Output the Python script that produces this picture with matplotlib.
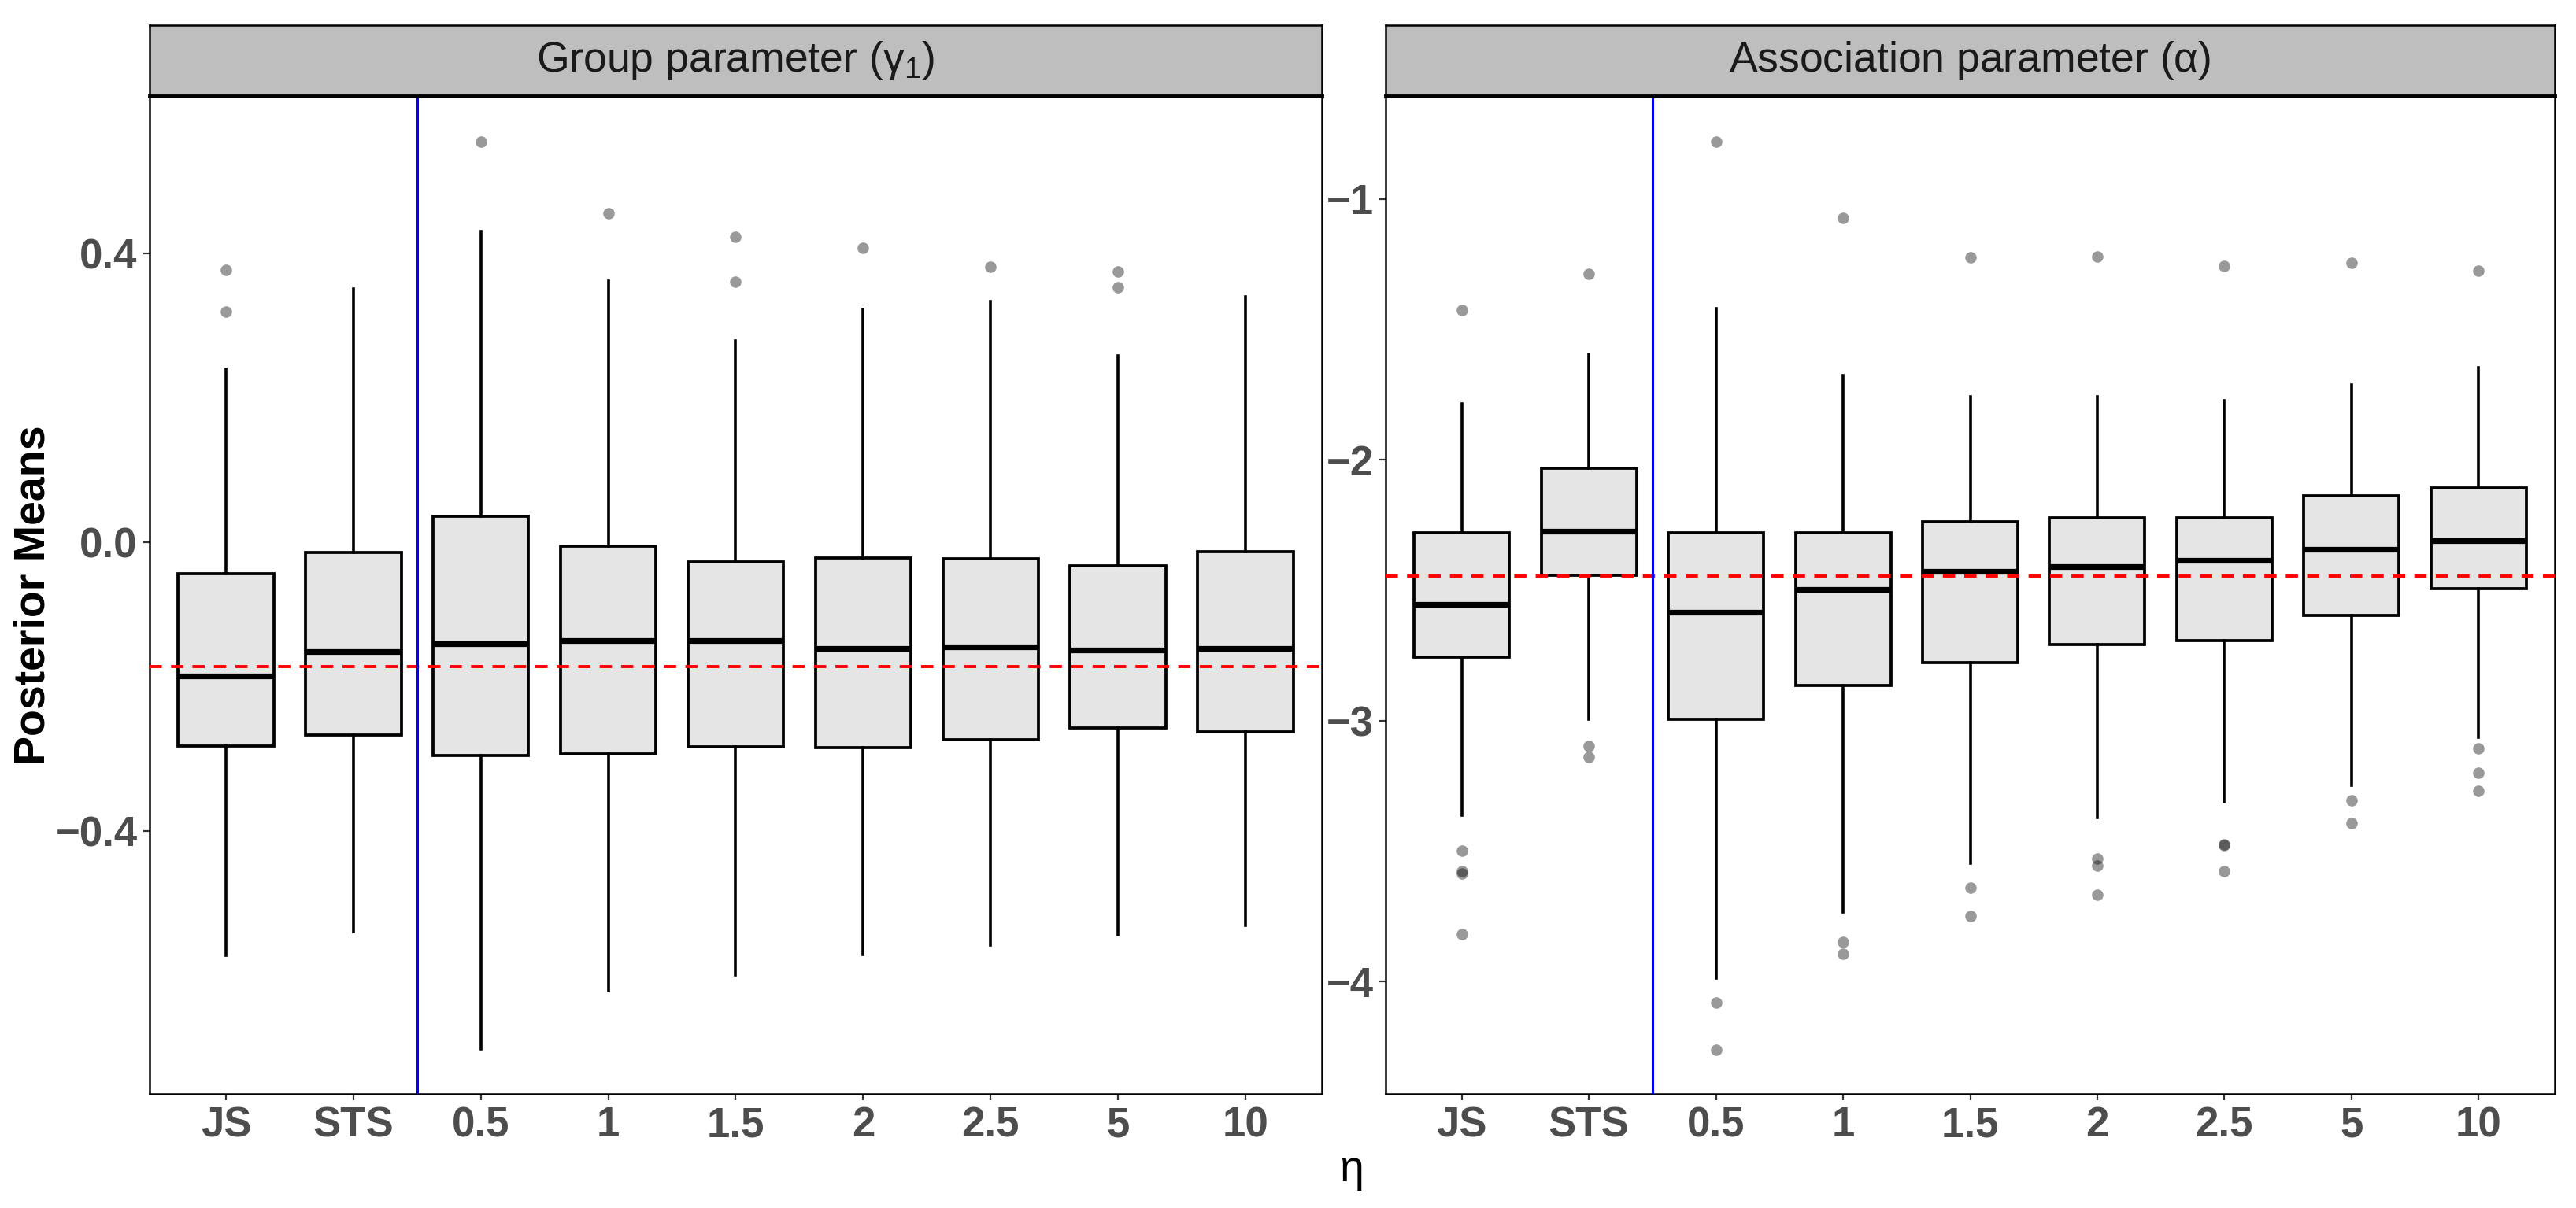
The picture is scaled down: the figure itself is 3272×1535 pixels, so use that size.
import numpy as np
import matplotlib
matplotlib.use("Agg")
import matplotlib.pyplot as plt

plt.rcParams['font.family'] = ['Liberation Sans', 'DejaVu Sans']
plt.rcParams['mathtext.default'] = 'regular'

categories = ["JS", "STS", "0.5", "1", "1.5", "2", "2.5", "5", "10"]

# group parameter (gamma_1)
g_lo  = [-0.572, -0.540, -0.702, -0.621, -0.600, -0.571, -0.558, -0.544, -0.531]
g_q1  = [-0.282, -0.267, -0.296, -0.293, -0.284, -0.285, -0.274, -0.257, -0.263]
g_med = [-0.185, -0.152, -0.141, -0.136, -0.136, -0.147, -0.145, -0.150, -0.147]
g_q3  = [-0.044, -0.014, 0.036, -0.006, -0.027, -0.022, -0.023, -0.033, -0.013]
g_hi  = [0.239, 0.350, 0.430, 0.361, 0.279, 0.322, 0.333, 0.258, 0.340]
g_out = [[0.377, 0.319], [], [0.554], [0.455], [0.422, 0.360], [0.407],
         [0.381], [0.374, 0.353], []]
g_true = -0.172

# association parameter (alpha)
a_lo  = [-3.362, -2.996, -3.989, -3.734, -3.548, -3.372, -3.312, -3.247, -3.064]
a_q1  = [-2.758, -2.442, -2.996, -2.866, -2.779, -2.708, -2.693, -2.597, -2.495]
a_med = [-2.554, -2.275, -2.584, -2.496, -2.427, -2.410, -2.387, -2.342, -2.311]
a_q3  = [-2.279, -2.033, -2.281, -2.279, -2.238, -2.222, -2.222, -2.139, -2.107]
a_hi  = [-1.785, -1.596, -1.419, -1.677, -1.759, -1.759, -1.774, -1.713, -1.646]
a_out = [[-1.425, -3.498, -3.578, -3.585, -3.820], [-1.289, -3.097, -3.140],
         [-0.781, -4.081, -4.261], [-1.074, -3.850, -3.894], [-1.223, -3.640, -3.749],
         [-1.220, -3.528, -3.555, -3.668], [-1.257, -3.475, -3.477, -3.578],
         [-1.246, -3.306, -3.392], [-1.277, -3.108, -3.199, -3.270]]
a_true = -2.447

W, H = 3273, 1535
fig = plt.figure(figsize=(W/100, H/100), dpi=100)

panels = [
    dict(x0=190, x1=1679, lo=g_lo, q1=g_q1, med=g_med, q3=g_q3, hi=g_hi, out=g_out,
         true=g_true, ylim=(-0.764, 0.617), yticks=[-0.4, 0.0, 0.4], fmt="%.1f",
         title=r"Group parameter ($\gamma_1$)"),
    dict(x0=1760, x1=3245, lo=a_lo, q1=a_q1, med=a_med, q3=a_q3, hi=a_hi, out=a_out,
         true=a_true, ylim=(-4.431, -0.607), yticks=[-4, -3, -2, -1], fmt="%d",
         title=r"Association parameter ($\alpha$)"),
]

ytop, ybot, stop = 122.4, 1390, 31.6
pos = np.arange(1, len(categories)+1)

for p in panels:
    ax = fig.add_axes([p['x0']/W, 1-ybot/H, (p['x1']-p['x0'])/W, (ybot-ytop)/H])
    stats = []
    for i in range(len(categories)):
        stats.append(dict(med=p['med'][i], q1=p['q1'][i], q3=p['q3'][i],
                          whislo=p['lo'][i], whishi=p['hi'][i], fliers=p['out'][i]))
    ax.bxp(stats, positions=pos, widths=0.75, showcaps=False, patch_artist=True,
           boxprops=dict(facecolor="#E5E5E5", edgecolor="black", linewidth=2.7),
           whiskerprops=dict(color="black", linewidth=2.6),
           medianprops=dict(color="black", linewidth=5.2, solid_capstyle="butt"),
           flierprops=dict(marker="o", markerfacecolor="black", markeredgecolor="none",
                           alpha=0.4, markersize=10.5))
    ax.axhline(p['true'], color="#FF0000", linestyle=(0, (4, 3)), linewidth=2.8, zorder=5)
    ax.axvline(2.5, color="#0000FF", linewidth=2.2, zorder=5)
    ax.set_xlim(0.4, len(categories)+0.6)
    ax.set_ylim(*p['ylim'])
    ax.set_xticks(pos)
    ax.set_xticklabels(categories)
    ax.set_yticks(p['yticks'])
    ax.set_yticklabels([(p['fmt'] % v).replace("-", "\u2212") for v in p['yticks']])
    ax.tick_params(axis='both', length=6, width=1.6, color="#333333", pad=5,
                   labelsize=38, labelcolor="#4D4D4D")
    for lab in ax.get_xticklabels() + ax.get_yticklabels():
        lab.set_fontweight("bold")
    for s in ax.spines.values():
        s.set_linewidth(1.8)
        s.set_color("black")
    # facet strip
    sax = fig.add_axes([p['x0']/W, 1-ytop/H, (p['x1']-p['x0'])/W, (ytop-stop)/H])
    sax.set_facecolor("#BEBEBE")
    sax.set_xticks([])
    sax.set_yticks([])
    for s in sax.spines.values():
        s.set_linewidth(1.8)
        s.set_color("black")
    sax.spines['bottom'].set_linewidth(3.5)
    sax.text(0.5, 0.5, p['title'], ha="center", va="center", fontsize=38.5,
             color="#1A1A1A", transform=sax.transAxes)

fig.text(42.5/W, 1-756/H, "Posterior Means", rotation=90, ha="center", va="center",
         fontsize=40, fontweight="bold", color="black")
fig.text(1717/W, 1-1487/H, "η", ha="center", va="center", fontsize=40, color="black")

fig.savefig("out.png", dpi=100, facecolor="white")
